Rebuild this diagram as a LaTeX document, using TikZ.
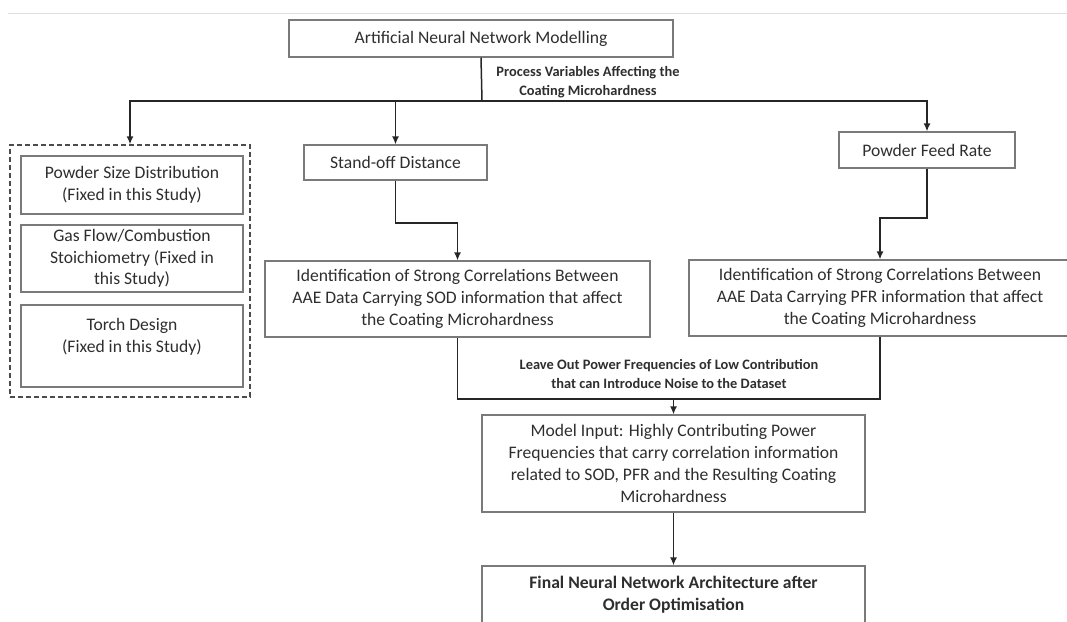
\documentclass[tikz,border=0pt]{standalone}
\usepackage{fontspec}
\setmainfont{Carlito}
\usetikzlibrary {arrows.meta}

\definecolor{boxgray}{HTML}{7A7A7A}
\definecolor{txtgray}{HTML}{2E2E2E}

\begin{document}
\begin{tikzpicture}[x=1pt, y=-1pt,
        box/.style = {draw=boxgray, line width=1.2pt, align=center, inner sep=0pt, text=txtgray, font=\fontsize{17.6}{21.8}\selectfont},
        tag/.style = {align=center, inner sep=0pt, text=txtgray, font=\bfseries\fontsize{14.4}{18.4}\selectfont},
        conn/.style = {line width=1.5pt, color=black!85},
        arr/.style = {conn, arrows = {-Latex[length=8pt, width=7pt]}}]
        \useasboundingbox (0, 0) rectangle (1067, 621);
        \draw [black!12, line width=1pt] (8, 13)--(1067, 13);

        \node [box, minimum width=384, minimum height=37] (anm) at (481, 38.5) {Artificial Neural Network Modelling};
        \coordinate (split) at (482, 101);
        \node [tag] (procvars) at (588, 82) {Process Variables Affecting the\\Coating Microhardness};

        \node [draw=black!70, dashed, dash pattern=on 5pt off 3pt, line width=1.3pt, minimum width=240, minimum height=252] (fixed) at (130, 271) {};
        \node [box, minimum width=222, minimum height=58] (psd) at (132, 185) {Powder Size Distribution\\(Fixed in this Study)};
        \node [box, minimum width=222, minimum height=67] (gas) at (132, 258.5) {Gas Flow/Combustion\\Stoichiometry (Fixed in\\this Study)};
        \node [box, minimum width=222, minimum height=82] (torch) at (132, 346) {Torch Design\\(Fixed in this Study)\\\mbox{}};

        \node [box, minimum width=183, minimum height=35] (sod) at (395.5, 162.5) {Stand-off Distance};
        \node [box, minimum width=176, minimum height=36] (pfr) at (927, 150) {Powder Feed Rate};
        \coordinate (sodkink) at (395.5, 223);
        \coordinate (pfrkink) at (927, 218);

        \node [box, minimum width=385, minimum height=76] (sodid) at (457.5, 299) {Identification of Strong Correlations Between\\AAE Data Carrying SOD information that affect\\the Coating Microhardness};
        \node [box, minimum width=382, minimum height=76] (pfrid) at (880, 298) {Identification of Strong Correlations Between\\AAE Data Carrying PFR information that affect\\the Coating Microhardness};
        \coordinate (merge) at (673.5, 399);
        \node [tag] (leaveout) at (669, 374) {Leave Out Power Frequencies of Low Contribution\\that can Introduce Noise to the Dataset};

        \node [box, minimum width=383, minimum height=97] (input) at (673.5, 463.5) {Model Input: Highly Contributing Power\\Frequencies that carry correlation information\\related to SOD, PFR and the Resulting Coating\\Microhardness};
        \node [box, font=\bfseries\fontsize{17.6}{21.8}\selectfont, minimum width=383, minimum height=58] (final) at (673.5, 595) {Final Neural Network Architecture after\\Order Optimisation};

        \draw [conn] (anm.south)--(split);
        \draw [arr] (split) -| (fixed.north);
        \draw [arr] (split) -| (sod.north);
        \draw [arr] (split) -| (pfr.north);
        \draw [arr] (sod.south)--(sodkink) -| (sodid.north);
        \draw [arr] (pfr.south)--(pfrkink) -| (pfrid.north);
        \draw [conn] (sodid.south) |- (merge) -| (pfrid.south);
        \draw [arr] (merge)--(input.north);
        \draw [arr] (input.south)--(final.north);
      \end{tikzpicture}
\end{document}
